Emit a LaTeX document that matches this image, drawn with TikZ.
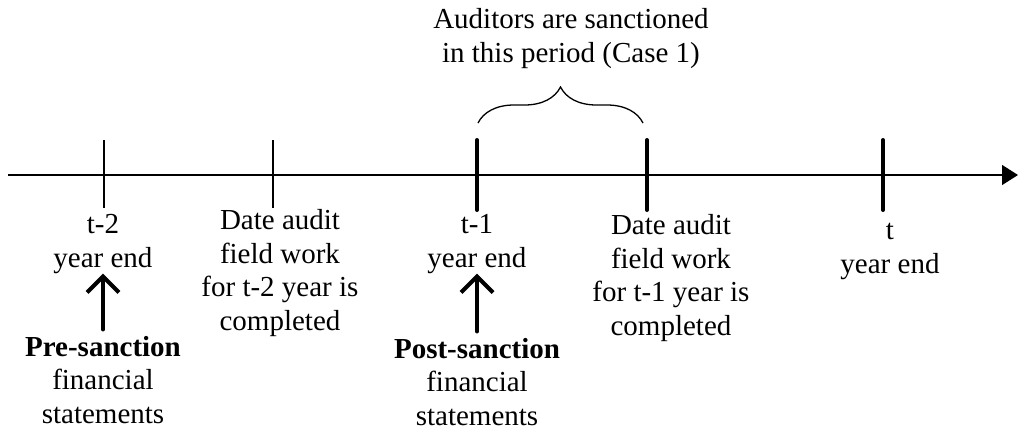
\documentclass[tikz,border=0pt]{standalone}
\usepackage{fontspec}
\setmainfont{Liberation Serif}
\usetikzlibrary{arrows.meta,decorations.pathreplacing}

\tikzset{
  lbl/.style={inner sep=0pt, anchor=base, align=center, font=\fontsize{14.5}{16.75}\selectfont},
  minor tick/.style={line width=0.65pt},
  major tick/.style={line width=2pt, line cap=round},
  up arrow/.style={line width=2pt, line cap=round, shorten <=3pt, -{Straight Barb[length=8pt,width=16pt]}}
}

\begin{document}
\begin{tikzpicture}[x=0.5pt, y=-0.5pt]
	\useasboundingbox (0,0) rectangle (1018,430);

	% time line
	\coordinate (start) at (8,175);
	\coordinate (stop) at (1018,175);
	\draw[line width=0.65pt, -{Triangle[length=8pt,width=10pt]}] (start) -- (stop);

	% thin ticks
	\foreach \x in {104, 273}
		\draw[minor tick] (\x,140) -- (\x,208);

	% thick ticks
	\foreach \x in {477, 647, 883}
		\draw[major tick] (\x,140) -- (\x,210);

	% brace over the sanction period
	\coordinate (braceL) at (478,123);
	\coordinate (braceR) at (643,123);
	\draw[line width=0.65pt, decorate, decoration={brace, amplitude=18pt}] (braceL) -- (braceR);
	\node[lbl] (period) at (571,62) {Auditors are sanctioned\\in this period (Case 1)};

	% labels under the line (placed by their last line)
	\node[lbl] (yeA) at (103,267) {t-2\\year end};
	\node[lbl] (fwA) at (280,330) {Date audit\\field work\\for t-2 year is\\completed};
	\node[lbl] (yeB) at (477,267) {t-1\\year end};
	\node[lbl] (fwB) at (671,335) {Date audit\\field work\\for t-1 year is\\completed};
	\node[lbl] (yeC) at (890,273) {t\\year end};

	% pre-sanction statements
	\node[lbl] (pre) at (103,423) {\textbf{Pre-sanction}\\financial\\statements};
	\draw[up arrow] (pre.north) -- (yeA.south);

	% post-sanction statements
	\node[lbl] (post) at (477,425) {\textbf{Post-sanction}\\financial\\statements};
	\draw[up arrow] (post.north) -- (yeB.south);
\end{tikzpicture}
\end{document}
